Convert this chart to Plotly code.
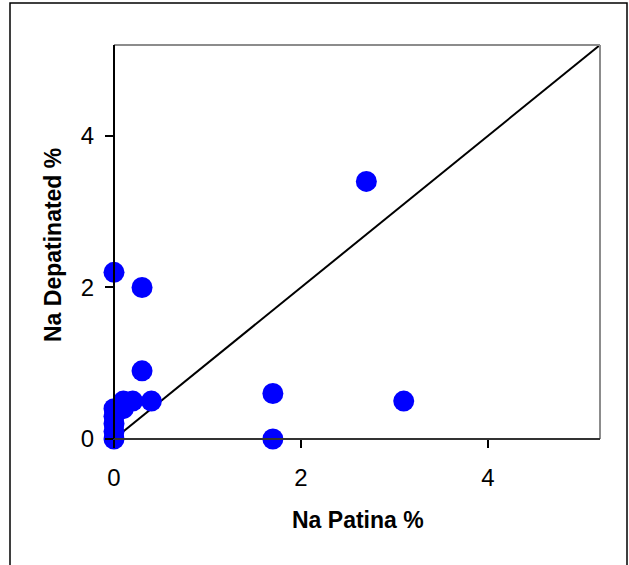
import plotly.graph_objects as go

# Sodium content: patina vs. depatinated surface (%)
na_patina = [0, 0.3, 0.3, 2.7, 1.7, 3.1, 1.7, 0.4, 0.2, 0.1, 0.1, 0, 0, 0, 0, 0]
na_depatinated = [2.2, 2.0, 0.9, 3.4, 0.6, 0.5, 0, 0.5, 0.5, 0.5, 0.4, 0.4, 0.3, 0.2, 0.1, 0]

# 1:1 reference line
line_x = [0, 5.2]
line_y = [0, 5.2]

tick_vals = [0, 2, 4]
axis_range = [0, 5.2]

W, H = 629, 565
left, right, top, bottom = 114, 600, 45, 439

fig = go.Figure()
fig.add_trace(go.Scatter(x=line_x, y=line_y, mode="lines",
                         line=dict(color="black", width=2),
                         hoverinfo="skip", showlegend=False))
fig.add_trace(go.Scatter(x=na_patina, y=na_depatinated, mode="markers",
                         marker=dict(color="#0000FF", size=21, line=dict(width=0)),
                         showlegend=False, cliponaxis=False))

font = "Liberation Sans, Arial, sans-serif"
fig.update_layout(
    width=W, height=H,
    margin=dict(l=left, r=W - right, t=top, b=H - bottom),
    paper_bgcolor="white", plot_bgcolor="white",
    font=dict(family=font, size=24, color="black"),
    xaxis=dict(range=axis_range, tickvals=tick_vals, ticks="outside",
               ticklen=8, tickwidth=1.5, tickcolor="black",
               showgrid=False, zeroline=False,
               showline=False, tickfont=dict(size=24), ticklabelstandoff=9),
    yaxis=dict(range=axis_range, tickvals=tick_vals, ticks="outside",
               ticklen=8, tickwidth=1.5, tickcolor="black",
               showgrid=False, zeroline=False,
               showline=False, tickfont=dict(size=24), ticklabelstandoff=6),
    shapes=[
        # plot area frame: grey top/right, black axis lines left/bottom
        dict(type="line", xref="paper", yref="paper", x0=0, x1=1, y0=1, y1=1,
             line=dict(color="#8c8c8c", width=2)),
        dict(type="line", xref="paper", yref="paper", x0=1, x1=1, y0=0, y1=1,
             line=dict(color="#8c8c8c", width=2)),
        dict(type="line", xref="paper", yref="paper", x0=0, x1=0, y0=0, y1=1,
             line=dict(color="black", width=2)),
        dict(type="line", xref="paper", yref="paper", x0=0, x1=1, y0=0, y1=0,
             line=dict(color="#333333", width=2)),
        # outer chart border
        dict(type="path", xref="paper", yref="paper", layer="above",
             path="M {x0} {y0} L {x0} {y1} L {x1} {y1} L {x1} {y0}".format(
                 x0=(10 - left) / (right - left), x1=(627 - left) / (right - left),
                 y0=(bottom - 600) / (bottom - top), y1=(bottom - 3) / (bottom - top)),
             line=dict(color="black", width=1.5)),
    ],
    annotations=[
        dict(text="<b>Na Patina %</b>", xref="paper", yref="paper",
             x=(358 - left) / (right - left), y=(bottom - 520) / (bottom - top),
             showarrow=False, font=dict(size=23), xanchor="center", yanchor="middle"),
        dict(text="<b>Na Depatinated %</b>", xref="paper", yref="paper",
             x=(53 - left) / (right - left), y=(bottom - 245) / (bottom - top),
             showarrow=False, font=dict(size=23), textangle=-90,
             xanchor="center", yanchor="middle"),
    ],
)

fig.write_html("out.html")
